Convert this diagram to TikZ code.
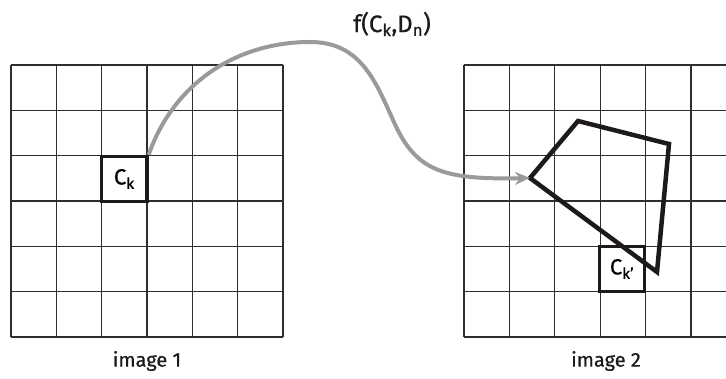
\documentclass[tikz,border=0pt]{standalone}
\usepackage{fontspec}
\setmainfont{Fira Sans}[FakeBold=0.7]
\usetikzlibrary{arrows.meta}
\definecolor{gridcol}{HTML}{2E2E2E}
\definecolor{arrowgray}{HTML}{9A9A9A}
\definecolor{ink}{HTML}{1E1A1A}
\begin{document}
\begin{tikzpicture}[x=1pt,y=-1pt,
  gridline/.style={draw=gridcol,line width=1.2pt},
  cellbox/.style={draw=ink,line width=3.5pt,minimum size=45.3pt,inner sep=0pt,fill=white,font=\fontsize{22}{22}\selectfont},
  quad/.style={draw=ink,line width=4.5pt,line join=miter},
  maparrow/.style={draw=arrowgray,line width=4pt,-{Stealth[length=15pt,width=13pt,inset=5pt]}},
  caption/.style={font=\fontsize{20}{20}\selectfont,text=ink}]
\useasboundingbox (0,0) rectangle (726,379);
% left grid
\foreach \i in {0,...,6} {
  \draw[gridline] (11+\i*45.333,65) -- (11+\i*45.333,337);
  \draw[gridline] (11,65+\i*45.333) -- (283,65+\i*45.333);
}
% right grid (clipped at the picture edge)
\begin{scope}
\clip (0,0) rectangle (726,379);
\foreach \i in {0,...,6} {
  \draw[gridline] (464+\i*45.4,65) -- (464+\i*45.4,337);
  \draw[gridline] (464,65+\i*45.333) -- (740,65+\i*45.333);
}
\end{scope}
% cells
\node[cellbox] (ck) at (124.3,179) {C\textsubscript{k}};
\node[cellbox] (ckp) at (622,269) {C\textsubscript{k'}};
% quadrilateral
\coordinate (qa) at (530,178);
\coordinate (qb) at (578,121);
\coordinate (qc) at (669,144);
\coordinate (qd) at (657,272);
\draw[quad] (qa) -- (qb) -- (qc) -- (qd) -- cycle;
% mapping arrow
\coordinate (peak) at (310,42);
\coordinate (mid) at (393,120);
\draw[maparrow] (ck.north east) .. controls (175,80) and (240,42) .. (peak)
  .. controls (360,42) and (375,80) .. (mid)
  .. controls (415,170) and (440,180) .. (qa);
\node[caption,font=\fontsize{24}{24}\selectfont] (flabel) at (392,24) {f(C\textsubscript{k},D\textsubscript{n})};
\node[caption] (cap1) at (147,361) {image 1};
\node[caption] (cap2) at (606,361) {image 2};
\end{tikzpicture}
\end{document}
